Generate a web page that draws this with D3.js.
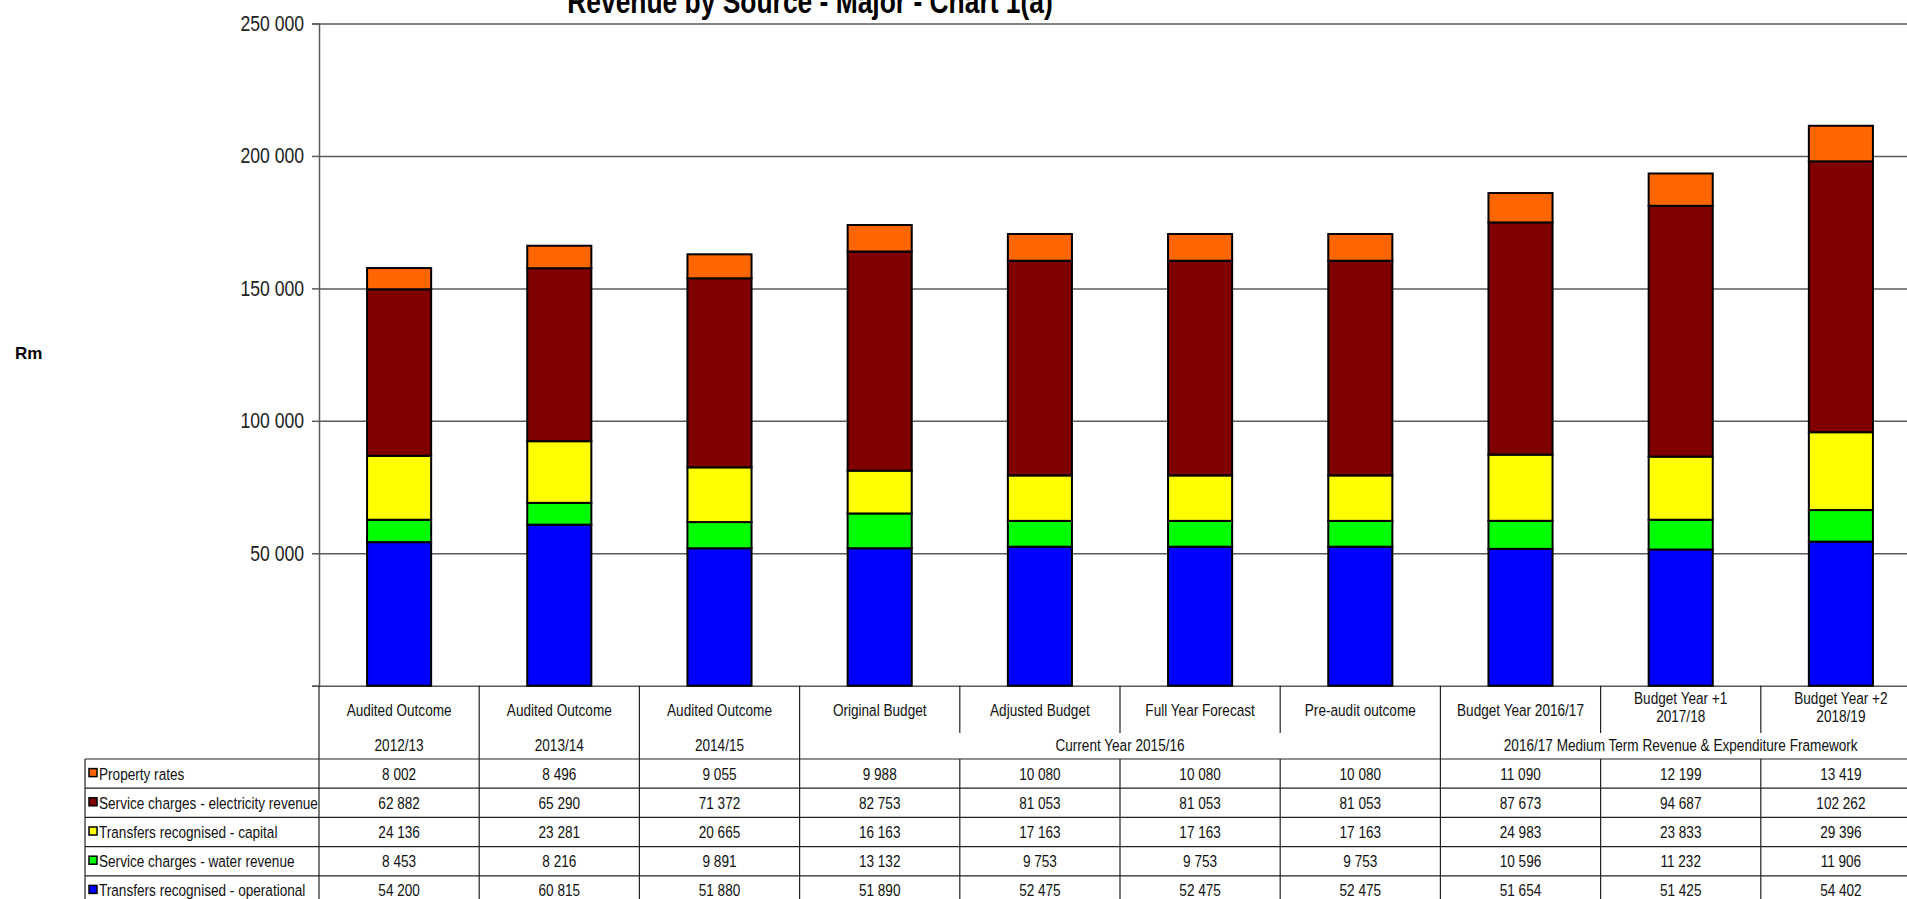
<!DOCTYPE html>
<html>
<head>
<meta charset="utf-8">
<script src="https://cdn.jsdelivr.net/npm/d3@7"></script>
<style>
  body { margin: 0; background: #fff; }
  svg { display: block; }
  text { font-family: "Liberation Sans", Arial, sans-serif; }
</style>
</head>
<body>
<svg id="chart" width="1907" height="899"></svg>
<script>
// column headers (first header row)
var colLabels = ["Audited Outcome", "Audited Outcome", "Audited Outcome", "Original Budget", "Adjusted Budget",
  "Full Year Forecast", "Pre-audit outcome", "Budget Year 2016/17", "Budget Year +1|2017/18", "Budget Year +2|2018/19"];
// second header row, each group spans some columns
var groupLabels = ["2012/13", "2013/14", "2014/15", "Current Year 2015/16", "2016/17 Medium Term Revenue & Expenditure Framework"];
var groupSpans = [1, 1, 1, 4, 3];

var seriesNames = ["Property rates", "Service charges - electricity revenue", "Transfers recognised - capital",
  "Service charges - water revenue", "Transfers recognised - operational"];
var seriesColors = ["#ff6600", "#800000", "#ffff00", "#00ff00", "#0000ff"];

var propertyRates = [8002, 8496, 9055, 9988, 10080, 10080, 10080, 11090, 12199, 13419];
var electricity   = [62882, 65290, 71372, 82753, 81053, 81053, 81053, 87673, 94687, 102262];
var capital       = [24136, 23281, 20665, 16163, 17163, 17163, 17163, 24983, 23833, 29396];
var water         = [8453, 8216, 9891, 13132, 9753, 9753, 9753, 10596, 11232, 11906];
var operational   = [54200, 60815, 51880, 51890, 52475, 52475, 52475, 51654, 51425, 54402];

var yTicks = [0, 50000, 100000, 150000, 200000, 250000];

var allSeries = [propertyRates, electricity, capital, water, operational];

var svg = d3.select("#chart");
var plotLeft = 319, plotRight = 1921, plotTop = 23.5, base = 685.7;
var SQ = 0.8; // horizontal squeeze, no narrow font installed

var idx = d3.range(colLabels.length);
var rows = idx.map(function(i) {
  var r = { i: i };
  seriesNames.forEach(function(n, k) { r[n] = allSeries[k][i]; });
  return r;
});

var x = d3.scaleBand().domain(idx).range([plotLeft, plotRight]).paddingInner(0.6).paddingOuter(0.3);
var xCol = d3.scaleBand().domain(idx).range([plotLeft, plotRight]).padding(0);
var y = d3.scaleLinear().domain([0, 250000]).range([base, plotTop]);

var fmtNum = function(v) { return d3.format(",")(v).replace(/,/g, " "); };

// narrow looking text
function ntext(parent, tx, ty, str, anchor) {
  return parent.append("text")
    .attr("transform", "translate(" + tx + "," + ty + ") scale(" + SQ + ",1)")
    .attr("text-anchor", anchor || "start")
    .attr("dy", "0.35em")
    .text(str);
}

// gridlines
svg.append("g")
    .attr("transform", "translate(" + plotLeft + ",0)")
    .call(d3.axisLeft(y).tickValues(yTicks).tickSize(-(plotRight - plotLeft)).tickFormat(""))
    .call(function(g) {
      g.select(".domain").remove();
      g.selectAll("line").attr("stroke", "#5a5a5a").attr("stroke-width", 1.5);
    });

// stacked bars, bottom series first
var stack = d3.stack().keys(seriesNames.slice().reverse());
var layers = stack(rows);

svg.append("g").selectAll("g")
  .data(layers)
  .enter().append("g")
    .attr("fill", function(d) { return seriesColors[seriesNames.indexOf(d.key)]; })
  .selectAll("rect")
  .data(function(d) { return d; })
  .enter().append("rect")
    .attr("x", function(d) { return x(d.data.i); })
    .attr("width", x.bandwidth())
    .attr("y", function(d) { return y(d[1]); })
    .attr("height", function(d) { return y(d[0]) - y(d[1]); })
    .attr("stroke", "#000")
    .attr("stroke-width", 2);

// y axis
svg.append("g")
    .attr("transform", "translate(" + plotLeft + ",0)")
    .call(d3.axisLeft(y).tickValues(yTicks).tickSize(7).tickPadding(8)
      .tickFormat(function(d) { return d === 0 ? "" : fmtNum(d); }))
    .call(function(g) {
      g.select(".domain").attr("stroke", "#5a5a5a").attr("stroke-width", 1.5);
      g.selectAll("line").attr("stroke", "#5a5a5a").attr("stroke-width", 1.5);
      g.selectAll("text")
        .attr("font-family", null)
        .attr("font-size", 22).attr("fill", "#222")
        .attr("x", -15 / SQ)
        .attr("transform", "scale(" + SQ + ",1)");
    });

// title and unit
ntext(svg, 810, 1, "Revenue by Source - Major - Chart 1(a)", "middle")
    .attr("font-weight", "bold")
    .attr("font-size", 33);

svg.append("text")
    .attr("x", 15).attr("y", 359)
    .attr("font-weight", "bold")
    .attr("font-size", 17)
    .text("Rm");

// ---- data table ----
var tbl = svg.append("g").attr("font-size", 17).attr("fill", "#111");
var hdrSplit = 733, dataTop = 759, rowH = 29.2, legLeft = 85;
var tableBottom = dataTop + rowH * seriesNames.length;

// group of each column
var colGroup = [];
groupSpans.forEach(function(s, g) { for (var k = 0; k < s; k++) colGroup.push(g); });

var lines = tbl.append("g").attr("stroke", "#222").attr("stroke-width", 1.2);

// vertical separators
d3.range(colLabels.length + 1).forEach(function(i) {
  var xx = i < colLabels.length ? xCol(i) : plotRight;
  var inside = i > 0 && i < colLabels.length && colGroup[i] === colGroup[i - 1];
  if (inside) {
    lines.append("line").attr("x1", xx).attr("x2", xx).attr("y1", base).attr("y2", hdrSplit);
    lines.append("line").attr("x1", xx).attr("x2", xx).attr("y1", dataTop).attr("y2", tableBottom);
  } else {
    lines.append("line").attr("x1", xx).attr("x2", xx).attr("y1", base).attr("y2", tableBottom);
  }
});
lines.append("line").attr("x1", legLeft).attr("x2", legLeft).attr("y1", dataTop).attr("y2", tableBottom);

// horizontal lines
d3.range(seriesNames.length + 1).forEach(function(k) {
  var yy = dataTop + k * rowH;
  lines.append("line").attr("x1", legLeft).attr("x2", plotRight).attr("y1", yy).attr("y2", yy);
});

// header row 1
colLabels.forEach(function(lab, i) {
  var parts = lab.split("|");
  var cx = xCol(i) + xCol.bandwidth() / 2;
  parts.forEach(function(p, j) {
    var cy = parts.length === 1 ? 710 : 698 + j * 18;
    ntext(tbl, cx, cy, p, "middle");
  });
});

// header row 2 (groups)
var start = 0;
groupLabels.forEach(function(lab, g) {
  var x0 = xCol(start), x1 = xCol(start + groupSpans[g] - 1) + xCol.bandwidth();
  ntext(tbl, (x0 + x1) / 2, 745, lab, "middle");
  start += groupSpans[g];
});

// legend cells and values
seriesNames.forEach(function(name, k) {
  var cy = dataTop + k * rowH + rowH / 2;
  tbl.append("rect").attr("x", 89).attr("y", cy - 5).attr("width", 8).attr("height", 8)
    .attr("fill", seriesColors[k]).attr("stroke", "#000").attr("stroke-width", 1.5);
  ntext(tbl, 99, cy, name);
  allSeries[k].forEach(function(v, i) {
    ntext(tbl, xCol(i) + xCol.bandwidth() / 2, cy, fmtNum(v), "middle");
  });
});
</script>
</body>
</html>
